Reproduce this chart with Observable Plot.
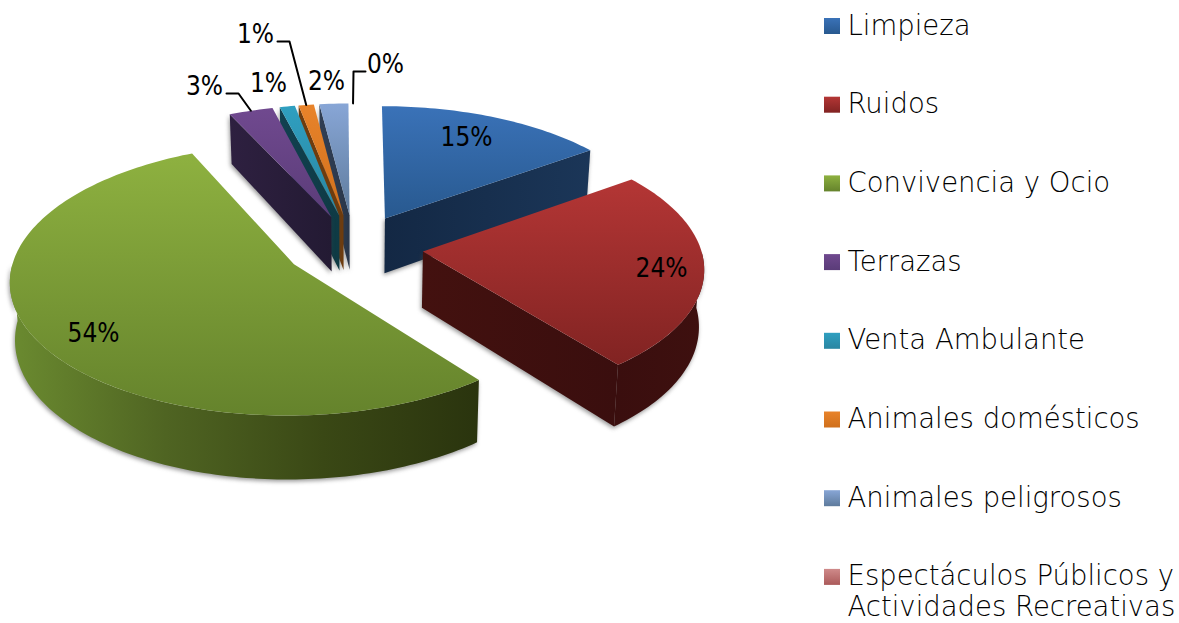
<!DOCTYPE html>
<html>
<head>
<meta charset="utf-8">
<script src="https://cdn.jsdelivr.net/npm/d3@7"></script>
<script src="https://cdn.jsdelivr.net/npm/@observablehq/plot@0.6"></script>
<style>html,body{margin:0;padding:0;background:#fff}svg{display:block}</style>
</head>
<body>
<div id="chart"></div>
<script>
// ---- data
const categories = ["Limpieza","Ruidos","Convivencia y Ocio","Terrazas","Venta Ambulante","Animales domésticos","Animales peligrosos","Espectáculos Públicos y\nActividades Recreativas"];
const shares = [15.1,24.3,53.7,2.9,1.0,1.0,1.9,0.1];
const percentLabels = ["15%","24%","54%","3%","1%","1%","2%","0%"];

// ---- styles and layout
const topStops = [["#3a72b8","#28598f"],["#b43635","#812322"],["#8eb140","#65832c"],["#70498f","#5a3c78"],["#2f9fc0","#2a86a2"],["#e8832a","#d0701c"],["#88a6d6","#5e7b9c"],["#cf8a8a","#ab5a5a"]];
const radialStops = [["#132844","#1b3658"],["#43110f","#3a0e0e"],["#2f3a12","#2f3a12"],["#2e2040","#231a33"],["#114050","#0f3a44"],["#6e3c0e","#6e3c0e"],["#303e54","#2a374a"],["#4a1f1f","#4a1f1f"]];
const outerStops = [null,["#3a0e0e","#3e100f"],["#6b8b30","#4f6422","#3a4815","#2a340e"],null,null,null,null,null];
const labelLayout = [[466,137],[661,268],[93,333],[204,86],[268,83],[255,34],[326,81],[385,64]];
const leaders = {3:[[238,93],[226,93]],5:[[289,41],[277,41]],7:[[353,71],[365,71]]};
const cx=353.5, cy=246.4, R=277.5, Ry=130.6, k=0.11, D=56, explode=0.25, shrink=0.985;
const font='"DejaVu Sans"', labelFont='"DejaVu Sans Condensed","DejaVu Sans"', legendSize=27.5, labelSize=26;

// ---- pie geometry from the shares
const total = d3.sum(shares);
let acc = 0;
const slices = shares.map((v,i)=>{
  const a0 = acc/total*2*Math.PI; acc += v;
  const a1 = acc/total*2*Math.PI;
  const mid=(a0+a1)/2;
  return {i,a0,a1,ox:explode*Math.sin(mid),oy:explode*Math.cos(mid)};
});
function proj(u,v,low){
  const s=1/(1+k*v);
  let x=cx+R*u*s, y=cy-Ry*v*s;
  if(low){ x=cx+(x-cx)*shrink; y+=D*s; }
  return [x,y];
}
const onRim=(sl,a,low)=>proj(sl.ox+Math.sin(a),sl.oy+Math.cos(a),low);
const apex=(sl,low)=>proj(sl.ox,sl.oy,low);
function arc(sl,a0,a1,low){
  const n=Math.max(2,Math.ceil((a1-a0)/0.02));
  return d3.range(n+1).map(j=>onRim(sl,a0+(a1-a0)*j/n,low));
}
const fx=p=>p[0], fy=p=>p[1];

function gradient(id,stops,horizontal){
  const g=document.createElementNS("http://www.w3.org/2000/svg","linearGradient");
  g.setAttribute("id",id);
  g.setAttribute("x1",0);g.setAttribute("y1",0);
  g.setAttribute("x2",horizontal?1:0);g.setAttribute("y2",horizontal?0:1);
  stops.forEach((c,j)=>{
    const s=document.createElementNS("http://www.w3.org/2000/svg","stop");
    s.setAttribute("offset",j/(stops.length-1));s.setAttribute("stop-color",c);g.appendChild(s);
  });
  return g;
}
const defsMark=()=>{
  const d=document.createElementNS("http://www.w3.org/2000/svg","defs");
  topStops.forEach((s,i)=>d.appendChild(gradient("top"+i,s,false)));
  radialStops.forEach((s,i)=>d.appendChild(gradient("rad"+i,s,true)));
  outerStops.forEach((s,i)=>{ if(s) d.appendChild(gradient("out"+i,s,true)); });
  return d;
};
const face=(pts,fill,extra={})=>Plot.line(pts,{x:fx,y:fy,fill,stroke:"none",...extra});

function sliceMarks(sl){
  const {i,a0,a1}=sl, marks=[], walls=[];
  const radial=a=>[apex(sl,false),onRim(sl,a,false),onRim(sl,a,true),apex(sl,true)];
  if(a1-a0<0.003) return marks;
  if(Math.sin(a0)<-0.02) walls.push([radial(a0),`url(#rad${i})`]);
  if(Math.sin(a1)>0.02) walls.push([radial(a1),`url(#rad${i})`]);
  const f0=Math.max(a0,Math.PI/2), f1=Math.min(a1,1.5*Math.PI);
  if(f1>f0) walls.push([[...arc(sl,f0,f1,false),...arc(sl,f0,f1,true).reverse()],`url(#out${i})`]);
  walls.forEach(w=>marks.push(face(w[0],"#444",{dy:2,dx:-1,opacity:0.55,imageFilter:"blur(2px)"})));
  walls.forEach(w=>marks.push(face(w[0],w[1])));
  marks.push(face([apex(sl,false),...arc(sl,a0,a1,false)],`url(#top${i})`));
  return marks;
}
const order=[6,5,4,3,0,1,2];
const pieMarks=order.flatMap(i=>sliceMarks(slices[i]));

const leaderMarks=Object.entries(leaders).map(([i,pts])=>{
  const sl=slices[+i];
  return Plot.line([onRim(sl,(sl.a0+sl.a1)/2,false),...pts],{x:fx,y:fy,stroke:"#000",strokeWidth:2});
});
const labelMark=Plot.text(percentLabels.map((t,i)=>({t,p:labelLayout[i]})),{
  x:d=>d.p[0],y:d=>d.p[1],text:"t",fontSize:labelSize,fontFamily:labelFont,fill:"#000",textAnchor:"middle",lineAnchor:"middle"});

const rowTop=26, rowStep=78.7, swatch=16, swatchX=824, textX=847;
const legendRows=categories.map((name,i)=>({name,i,y:rowTop+i*rowStep}));
const swatchMarks=legendRows.map(r=>Plot.rect([r],{x1:swatchX,x2:swatchX+swatch,y1:d=>d.y-swatch/2,y2:d=>d.y+swatch/2,fill:`url(#top${r.i})`}));
const legendText=Plot.text(legendRows,{x:textX,y:d=>d.y-legendSize*0.62+3,text:"name",fontSize:legendSize,fontFamily:font,fontWeight:200,fill:"#000",textAnchor:"start",lineAnchor:"top",lineHeight:1.13});

const chart=Plot.plot({
  width:1179,height:623,margin:0,
  x:{domain:[0,1179],range:[0,1179],axis:null},
  y:{domain:[0,623],range:[0,623],axis:null},
  style:{background:"#fff"},
  marks:[defsMark,...pieMarks,...leaderMarks,labelMark,...swatchMarks,legendText]
});
document.getElementById("chart").appendChild(chart);
</script>
</body>
</html>
